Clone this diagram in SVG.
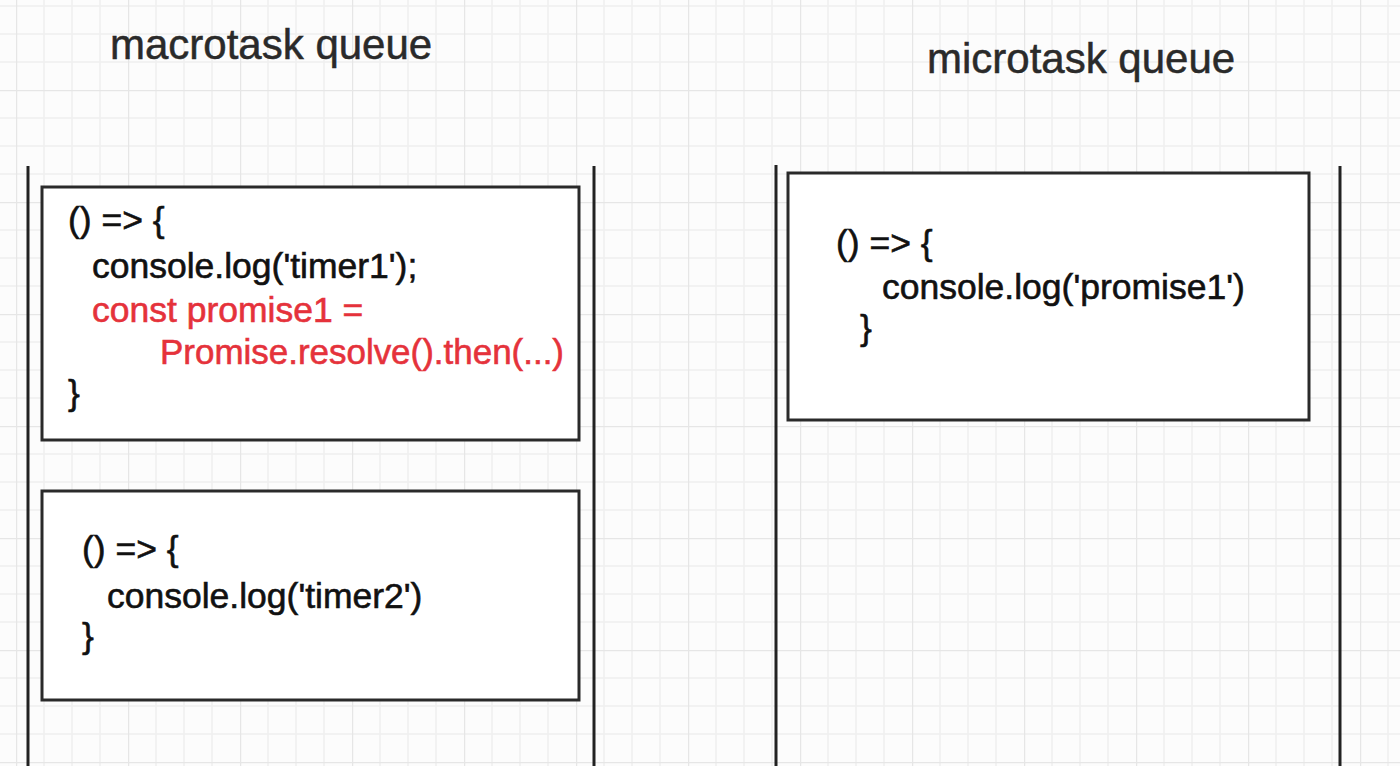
<svg xmlns="http://www.w3.org/2000/svg" width="1400" height="766" viewBox="0 0 1400 766">
  <defs>
    <!-- background grid: minor lines every 28px, major every 112px -->
    <pattern id="grid" x="16" y="90" width="112" height="112" patternUnits="userSpaceOnUse">
      <path d="M28 0V112M56 0V112M84 0V112M0 28H112M0 56H112M0 84H112" stroke="#efefef" stroke-width="1.5" fill="none"/>
      <path d="M0 0V112M0 0H112" stroke="#e6e6e6" stroke-width="2.5" fill="none"/>
    </pattern>
    <style>
      .title { font-family: "Liberation Sans", Arial, sans-serif; font-size: 42px; fill: #2a2a2a; stroke: #2a2a2a; stroke-width: 0.5; }
      .code { font-family: "Liberation Sans", Arial, sans-serif; font-size: 35.5px; fill: #111111; stroke: #111111; stroke-width: 0.6; }
      .hl { fill: #e5323b; stroke: #e5323b; }
      .box { fill: #ffffff; stroke: #2a2a2a; stroke-width: 3; }
      .rail { stroke: #222222; stroke-width: 3; fill: none; }
    </style>
  </defs>

  <rect width="1400" height="766" fill="#fcfcfc"/>
  <rect width="1400" height="766" fill="url(#grid)"/>

  <!-- queue titles -->
  <text class="title" x="110" y="59">macrotask queue</text>
  <text class="title" x="927" y="73">microtask queue</text>

  <!-- queue side rails -->
  <g id="rails">
    <line class="rail" x1="28" y1="166" x2="28" y2="766"/>
    <line class="rail" x1="594" y1="166" x2="594" y2="766"/>
    <line class="rail" x1="776" y1="165" x2="776" y2="766"/>
    <line class="rail" x1="1340" y1="166" x2="1340" y2="766"/>
  </g>

  <!-- macrotask: timer1 callback -->
  <g id="macrotask-timer1">
    <rect class="box" x="42" y="187" width="537" height="253"/>
    <text class="code" x="68" y="232">() =&gt; {</text>
    <text class="code" x="92" y="278">console.log('timer1');</text>
    <text class="code hl" x="92" y="322">const promise1 =</text>
    <text class="code hl" x="160" y="364" textLength="404" lengthAdjust="spacingAndGlyphs">Promise.resolve().then(...)</text>
    <text class="code" x="68" y="405">}</text>
  </g>

  <!-- macrotask: timer2 callback -->
  <g id="macrotask-timer2">
    <rect class="box" x="42" y="491" width="537" height="209"/>
    <text class="code" x="82" y="561">() =&gt; {</text>
    <text class="code" x="107" y="608">console.log('timer2')</text>
    <text class="code" x="82" y="648">}</text>
  </g>

  <!-- microtask: promise1 callback -->
  <g id="microtask-promise1">
    <rect class="box" x="788" y="173" width="521" height="247"/>
    <text class="code" x="836" y="255">() =&gt; {</text>
    <text class="code" x="882" y="299">console.log('promise1')</text>
    <text class="code" x="860" y="340">}</text>
  </g>
</svg>
